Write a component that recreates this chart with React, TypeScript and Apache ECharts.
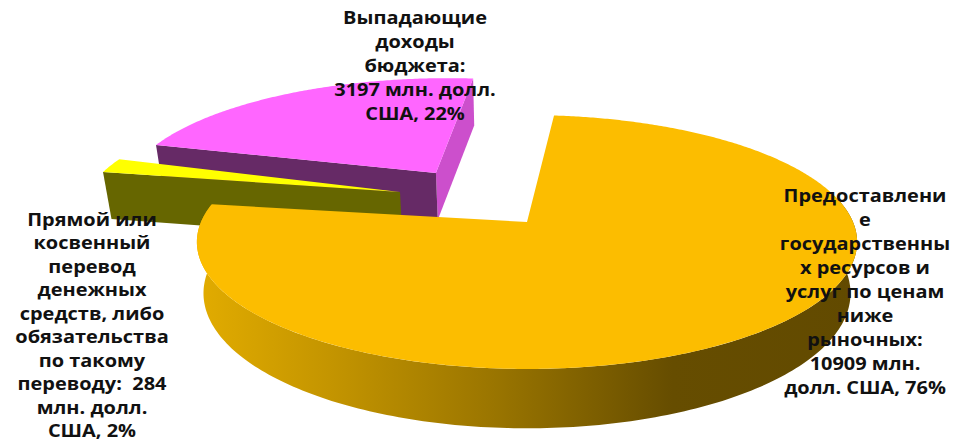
import React, { useEffect, useRef } from "react";
import * as echarts from "echarts";

const categories = ["Предоставление государственных ресурсов и услуг по ценам ниже рыночных", "Прямой или косвенный перевод денежных средств, либо обязательства по такому переводу", "Выпадающие доходы бюджета"];
const values = [10909, 284, 3197];
const labelLines = [
  ["Предоставлени", "е", "государственны", "х ресурсов и", "услуг по ценам", "ниже", "рыночных:", "10909 млн.", "долл. США, 76%"],
  ["Прямой или", "косвенный", "перевод", "денежных", "средств, либо", "обязательства", "по такому", "переводу:  284", "млн. долл.", "США, 2%"],
  ["Выпадающие", "доходы", "бюджета:", "3197 млн. долл.", "США, 22%"],
];

const START_ANGLE = 5.5;
const CX = 527, CY = 222, A = 123.8, B = 326, K = -0.1575, H = 50, MIN_DEPTH = 47, BOTTOM_SCALE = 0.98;
const sliceLook = [
  { du: 0, dv: 0, rot: 0, top: "#FCBD00", z: 30 },
  { du: -0.405, dv: -0.252, rot: 1.9, top: "#FFFF00", cutStart: "#666600", z: 20 },
  { du: -0.298, dv: -0.422, rot: 0, top: "#FF66FF", cutStart: "#662A66", cutEnd: "#CC4FCC", z: 10 },
];
const labelBoxes = [
  { x: 865, y: 195, gap: 24 },
  { x: 92, y: 219, gap: 23.5 },
  { x: 415, y: 17, gap: 24 },
];

const total = values.reduce((a, b) => a + b, 0);

function project(u: number, v: number, low: boolean): number[] {
  const w = 1 + K * v;
  let x = CX + (B * u) / w;
  let y = CY + (A * v) / w;
  if (low) {
    x = CX + (x - CX) * BOTTOM_SCALE;
    y += Math.max(MIN_DEPTH, H / w);
  }
  return [x, y];
}

function rimPoint(deg: number, du: number, dv: number, low: boolean) {
  const r = (deg * Math.PI) / 180;
  return project(Math.sin(r) + du, -Math.cos(r) + dv, low);
}

function renderSlice(params: any, api: any) {
  const i = params.dataIndex;
  const look = sliceLook[i];
  let before = 0;
  for (let j = 0; j < i; j++) before += values[j];
  const a0 = START_ANGLE + (before / total) * 360 + look.rot;
  const a1 = a0 + (api.value(0) / total) * 360;
  const { du, dv } = look;
  const children: any[] = [];
  const apexT = project(du, dv, false);
  const apexB = project(du, dv, true);
  const face = (deg: number, fill: string, z: number) => ({
    type: "polygon",
    z2: z,
    shape: { points: [apexT, rimPoint(deg, du, dv, false), rimPoint(deg, du, dv, true), apexB] },
    style: { fill },
  });
  if (look.cutEnd) children.push(face(a1, look.cutEnd, look.z));
  if (look.cutStart) children.push(face(a0, look.cutStart, look.z + 1));
  if (i === 0) {
    const upper: number[][] = [];
    const lower: number[][] = [];
    const from = Math.max(a0, 80);
    const to = Math.min(a1, 278);
    for (let d = from; d <= to; d += 1) {
      upper.push(rimPoint(d, du, dv, false));
      lower.unshift(rimPoint(d, du, dv, true));
    }
    children.push({
      type: "polygon",
      z2: look.z + 1,
      shape: { points: upper.concat(lower) },
      style: {
        fill: new echarts.graphic.LinearGradient(0, 0, 1, 0, [
          { offset: 0, color: "#E2AC00" },
          { offset: 0.2, color: "#C49500" },
          { offset: 0.45, color: "#9A7500" },
          { offset: 0.72, color: "#664D00" },
          { offset: 1, color: "#624A00" },
        ]),
      },
    });
  }
  const topPts: number[][] = [apexT];
  const steps = Math.ceil(a1 - a0) * 2;
  for (let s = 0; s <= steps; s++) topPts.push(rimPoint(a0 + ((a1 - a0) * s) / steps, du, dv, false));
  children.push({
    type: "polygon",
    z2: look.z + 2,
    shape: { points: topPts },
    style: { fill: look.top },
  });
  return { type: "group", children };
}

export default function App() {
  const ref = useRef<HTMLDivElement>(null);
  useEffect(() => {
    document.body.style.margin = "0";
    const chart = echarts.init(ref.current!, undefined, { renderer: "svg" });
    chart.setOption({
      animation: false,
      backgroundColor: "#FFFFFF",
      series: [
        {
          type: "custom",
          coordinateSystem: "none",
          silent: true,
          renderItem: renderSlice,
          data: values.map((v, i) => ({ name: categories[i], value: [v] })),
        },
      ],
      graphic: labelLines.flatMap((lines, i) =>
        lines.map((t, n) => ({
          type: "text",
          z: 100,
          x: labelBoxes[i].x,
          y: labelBoxes[i].y + n * labelBoxes[i].gap,
          scaleX: 1.14,
          style: {
            text: t,
            fill: "#111111",
            font: "bold 17.5px 'Open Sans'",
            align: "center",
            verticalAlign: "middle",
          },
        }))
      ),
    });
    return () => chart.dispose();
  }, []);
  return <div ref={ref} style={{ width: 953, height: 443 }} />;
}
